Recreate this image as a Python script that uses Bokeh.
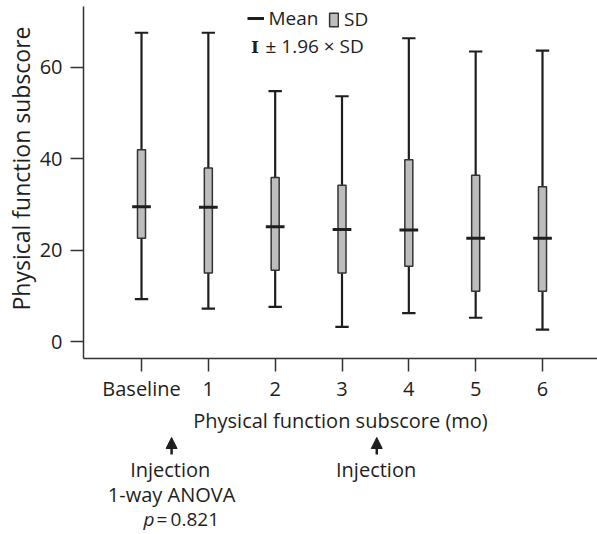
from bokeh.plotting import figure
from bokeh.layouts import column
from bokeh.models import (ColumnDataSource, FixedTicker, Label, Legend, LegendItem,
                          Arrow, NormalHead, Title, Range1d)
from bokeh.embed import file_html
from bokeh.resources import INLINE

# ---- data ----
time_labels = ["Baseline", "1", "2", "3", "4", "5", "6"]
time_pos = [0, 1, 2, 3, 4, 5, 6]
mean_vals = [29.5, 29.4, 25.1, 24.5, 24.4, 22.6, 22.6]
sd_upper = [42.0, 38.0, 35.9, 34.2, 39.8, 36.4, 33.9]
sd_lower = [22.6, 15.0, 15.6, 15.0, 16.5, 11.0, 11.0]
ci_upper = [67.6, 67.6, 54.8, 53.7, 66.4, 63.5, 63.7]
ci_lower = [9.3, 7.2, 7.6, 3.2, 6.2, 5.2, 2.6]
y_ticks = [0, 20, 40, 60]
injection_pos = [0.45, 3.52]   # arrows between time points

FONT = "Open Sans"
INK = "#1e1e1e"

cap_half = 0.10
mean_half = 0.14
box_w = 0.12

src = ColumnDataSource(dict(
    x=time_pos,
    mean=mean_vals, sdu=sd_upper, sdl=sd_lower, ciu=ci_upper, cil=ci_lower,
    cx0=[t - cap_half for t in time_pos], cx1=[t + cap_half for t in time_pos],
    mx0=[t - mean_half for t in time_pos], mx1=[t + mean_half for t in time_pos],
))

TOP_H = 436
p = figure(width=597, height=TOP_H, output_backend="svg", toolbar_location=None,
           x_range=Range1d(-0.868, 6.823), y_range=Range1d(-3.72, 73.35),
           min_border_left=83, min_border_right=0, min_border_top=6,
           min_border_bottom=TOP_H - 358)
p.grid.grid_line_color = None
p.outline_line_color = None
p.background_fill_color = "white"
p.border_fill_color = "white"

# whiskers (±1.96 SD)
p.segment(x0="x", y0="cil", x1="x", y1="ciu", source=src, line_color=INK, line_width=2.2)
p.segment(x0="cx0", y0="ciu", x1="cx1", y1="ciu", source=src, line_color=INK, line_width=2.2)
p.segment(x0="cx0", y0="cil", x1="cx1", y1="cil", source=src, line_color=INK, line_width=2.2)
# SD boxes
sd_r = p.vbar(x="x", bottom="sdl", top="sdu", width=box_w, source=src,
              fill_color="#bdbdbd", line_color="#333333", line_width=1.5)
# mean bars
mean_r = p.segment(x0="mx0", y0="mean", x1="mx1", y1="mean", source=src,
                   line_color=INK, line_width=3)

# axes
for ax in (p.xaxis[0], p.yaxis[0]):
    ax.axis_line_color = "#333333"
    ax.axis_line_width = 1.5
    ax.major_tick_line_color = "#333333"
    ax.major_tick_line_width = 1.5
    ax.major_tick_out = 13
    ax.major_tick_in = 0
    ax.minor_tick_line_color = None
    ax.major_label_text_font = FONT
    ax.major_label_text_font_size = "20px"
    ax.major_label_text_color = INK

p.xaxis.ticker = FixedTicker(ticks=time_pos)
p.xaxis.major_label_overrides = {t: lab for t, lab in zip(time_pos, time_labels)}
p.xaxis.major_label_standoff = 3
p.xaxis.axis_label = "Physical function subscore (mo)"
p.xaxis.axis_label_text_font = FONT
p.xaxis.axis_label_text_font_size = "20px"
p.xaxis.axis_label_text_font_style = "normal"
p.xaxis.axis_label_text_color = INK
p.xaxis.axis_label_standoff = 2

p.yaxis.ticker = FixedTicker(ticks=y_ticks)
p.yaxis.major_label_standoff = 8

# y axis title
p.add_layout(Title(text="Physical function subscore", align="right", offset=20,
                   standoff=0, text_font=FONT, text_font_size="23px",
                   text_font_style="normal", text_color=INK), "left")

# legends
leg1 = Legend(items=[LegendItem(label="Mean", renderers=[mean_r])],
              location=(163.5, 327), orientation="horizontal",
              padding=0, margin=0, spacing=0, label_standoff=5,
              glyph_width=17, glyph_height=20, label_height=20,
              border_line_color=None, background_fill_alpha=0,
              label_text_font=FONT, label_text_font_size="19px", label_text_color=INK)
leg2 = Legend(items=[LegendItem(label="SD", renderers=[sd_r])],
              location=(245, 326), orientation="horizontal",
              padding=0, margin=0, spacing=0, label_standoff=5,
              glyph_width=11, glyph_height=17, label_height=20,
              border_line_color=None, background_fill_alpha=0,
              label_text_font=FONT, label_text_font_size="19px", label_text_color=INK)
p.add_layout(leg1)
p.add_layout(leg2)
p.add_layout(Label(x=171.5, y=312, x_units="screen", y_units="screen", text="I",
                   text_align="center", text_baseline="middle",
                   text_font="DejaVu Serif", text_font_size="17px", text_font_style="bold",
                   text_color=INK))
p.add_layout(Label(x=182, y=313, x_units="screen", y_units="screen", text="± 1.96 × SD",
                   text_align="left", text_baseline="middle",
                   text_font=FONT, text_font_size="19px", text_color=INK))

# ---- annotation strip below the axis title (y in page pixels, inverted) ----
BOT_H = 534 - TOP_H
q = figure(width=597, height=BOT_H, output_backend="svg", toolbar_location=None,
           x_range=p.x_range, y_range=Range1d(534, TOP_H),
           min_border_left=83, min_border_right=0, min_border_top=0, min_border_bottom=0,
           x_axis_type=None, y_axis_type=None)
q.grid.grid_line_color = None
q.outline_line_color = None
q.background_fill_color = "white"
q.border_fill_color = "white"

for xs in injection_pos:
    q.add_layout(Arrow(end=NormalHead(size=11, fill_color=INK, line_color=INK, line_width=1),
                       x_start=xs, y_start=454, x_end=xs, y_end=437,
                       line_color=INK, line_width=2.5))

def note(x, y, text, align="center", style="normal", size="20px"):
    q.add_layout(Label(x=x, y=y, text=text,
                       text_align=align, text_baseline="middle",
                       text_font=FONT, text_font_size=size, text_font_style=style,
                       text_color=INK))

note(injection_pos[0] - 0.02, 469, "Injection")
note(injection_pos[1] - 0.01, 469, "Injection")
note(injection_pos[0], 494, "1-way ANOVA")
note(0.03, 518, "p", align="left", style="italic", size="19px")
note(0.225, 518, "=\u20090.821", align="left", size="19px")

layout = column(p, q, spacing=0)
open("out.html", "w").write(file_html(layout, INLINE))
